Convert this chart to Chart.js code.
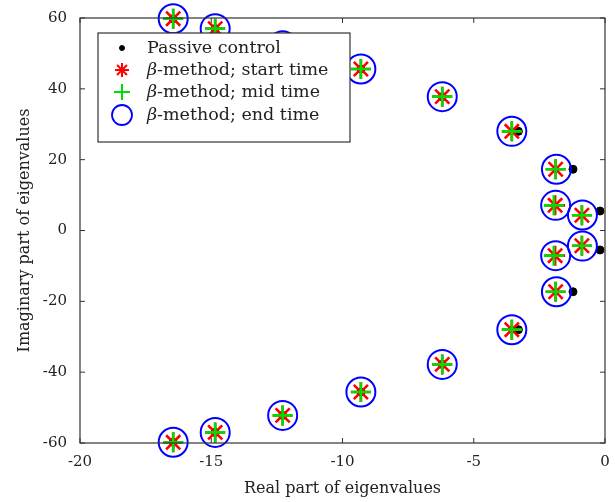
<html>

<head>
    <title>Eigenvalues</title>
    <script src="https://cdn.jsdelivr.net/npm/chart.js"></script>
    <style>
        html, body { margin: 0; background: white; overflow: hidden; }
    </style>
</head>

<body>
    <canvas id="myChart" width="615" height="502"></canvas>

    <script>
        // eigenvalues, upper half only (lower half is the conjugate)
        const passiveRe = [-16.45, -14.85, -12.28, -9.3, -6.2, -3.3, -1.22, -0.19];
        const passiveIm = [59.8, 57.0, 52.2, 45.6, 37.8, 28.0, 17.3, 5.5];

        const startRe = [-16.45, -14.85, -12.28, -9.3, -6.2, -3.55, -1.88, -1.9, -0.88];
        const startIm = [59.8, 57.0, 52.2, 45.6, 37.8, 28.0, 17.3, 7.1, 4.3];

        const midRe = [-16.45, -14.85, -12.28, -9.3, -6.2, -3.55, -1.88, -1.95, -0.88];
        const midIm = [59.8, 57.0, 52.2, 45.6, 37.8, 28.0, 17.3, 7.1, 4.3];

        const endRe = [-16.45, -14.85, -12.28, -9.3, -6.2, -3.55, -1.85, -1.88, -0.86];
        const endIm = [59.8, 57.0, 52.2, 45.6, 37.8, 28.0, 17.3, 7.1, 4.4];

        const xTicks = [-20, -15, -10, -5, 0];
        const yTicks = [-60, -40, -20, 0, 20, 40, 60];

        const seriesNames = [
            'Passive control',
            '-method; start time',
            '-method; mid time',
            '-method; end time'
        ];

        function pairs(re, im) {
            const pts = [];
            for (let i = 0; i < re.length; i++) {
                pts.push({ x: re[i], y: im[i] });
                pts.push({ x: re[i], y: -im[i] });
            }
            return pts;
        }

        const serif = "'DejaVu Serif', 'Liberation Serif', serif";

        // box round the plot, ticks pointing inward, legend inside the axes
        const framePlugin = {
            id: 'frame',
            afterDraw(chart) {
                const ctx = chart.ctx;
                const a = chart.chartArea;
                const xs = chart.scales.x;
                const ys = chart.scales.y;
                ctx.save();
                ctx.strokeStyle = '#333';
                ctx.lineWidth = 1.2;
                ctx.strokeRect(a.left, a.top, a.right - a.left, a.bottom - a.top);
                ctx.lineWidth = 1;
                ctx.beginPath();
                xTicks.forEach(v => {
                    const px = xs.getPixelForValue(v);
                    ctx.moveTo(px, a.bottom); ctx.lineTo(px, a.bottom - 5);
                    ctx.moveTo(px, a.top); ctx.lineTo(px, a.top + 5);
                });
                yTicks.forEach(v => {
                    const py = ys.getPixelForValue(v);
                    ctx.moveTo(a.left, py); ctx.lineTo(a.left + 5, py);
                    ctx.moveTo(a.right, py); ctx.lineTo(a.right - 5, py);
                });
                ctx.stroke();

                // legend
                const lx = 98, ly = 33, lw = 252, lh = 109;
                ctx.fillStyle = 'white';
                ctx.fillRect(lx, ly, lw, lh);
                ctx.strokeStyle = '#333';
                ctx.lineWidth = 1.2;
                ctx.strokeRect(lx, ly, lw, lh);

                const rowsY = [48, 70, 92, 115];
                const marks = [
                    { pointStyle: 'circle', radius: 2.5, borderWidth: 1, color: 'black', fill: true },
                    { pointStyle: 'star', radius: 7, borderWidth: 2, color: '#ff0000' },
                    { pointStyle: 'cross', radius: 8, borderWidth: 2, color: '#00dd00' },
                    { pointStyle: 'circle', radius: 10, borderWidth: 1.8, color: '#0000ff' }
                ];
                ctx.textBaseline = 'middle';
                rowsY.forEach((y, i) => {
                    const m = marks[i];
                    ctx.strokeStyle = m.color;
                    ctx.fillStyle = m.fill ? m.color : 'rgba(0,0,0,0)';
                    ctx.lineWidth = m.borderWidth;
                    Chart.helpers.drawPoint(ctx, {
                        pointStyle: m.pointStyle,
                        radius: m.radius,
                        borderWidth: m.borderWidth,
                        rotation: 0
                    }, 122, y);
                    let tx = 147;
                    ctx.fillStyle = '#222';
                    if (i > 0) {
                        ctx.font = 'italic 17.5px ' + serif;
                        ctx.fillText('\u03B2', tx, y);
                        tx += ctx.measureText('\u03B2').width;
                    }
                    ctx.font = '17.5px ' + serif;
                    ctx.fillText(seriesNames[i], tx, y);
                });
                ctx.restore();
            }
        };

        const data = {
            datasets: [
                {
                    label: seriesNames[0],
                    data: pairs(passiveRe, passiveIm),
                    order: 4,
                    pointStyle: 'circle',
                    pointRadius: 4,
                    backgroundColor: 'black',
                    borderColor: 'black',
                    pointBorderWidth: 1
                },
                {
                    label: 'β' + seriesNames[1],
                    data: pairs(startRe, startIm),
                    order: 3,
                    pointStyle: 'star',
                    pointRadius: 10,
                    borderColor: '#ff0000',
                    backgroundColor: '#ff0000',
                    pointBorderWidth: 2.6
                },
                {
                    label: 'β' + seriesNames[2],
                    data: pairs(midRe, midIm),
                    order: 2,
                    pointStyle: 'cross',
                    pointRadius: 10,
                    borderColor: '#00dd00',
                    backgroundColor: '#00dd00',
                    pointBorderWidth: 2.6
                },
                {
                    label: 'β' + seriesNames[3],
                    data: pairs(endRe, endIm),
                    order: 1,
                    pointStyle: 'circle',
                    pointRadius: 14.5,
                    borderColor: '#0000ff',
                    backgroundColor: 'rgba(0,0,0,0)',
                    pointBorderWidth: 2
                }
            ]
        };

        const config = {
            type: 'scatter',
            data: data,
            options: {
                responsive: false,
                animation: false,
                clip: false,
                layout: {
                    autoPadding: false,
                    padding: { top: 18, right: 10, left: 0, bottom: 0 }
                },
                scales: {
                    x: {
                        type: 'linear',
                        min: -20,
                        max: 0,
                        afterFit: (s) => { s.height = 59; s.paddingRight = 0; s.paddingLeft = 0; },
                        afterBuildTicks: (s) => { s.ticks = xTicks.map(v => ({ value: v })); },
                        grid: { display: false },
                        border: { display: false },
                        ticks: {
                            color: '#222',
                            padding: 2,
                            maxRotation: 0,
                            font: { family: serif, size: 15 }
                        },
                        title: {
                            display: true,
                            text: 'Real part of eigenvalues',
                            color: '#222',
                            padding: { top: 0, bottom: 4 },
                            font: { family: serif, size: 16 }
                        }
                    },
                    y: {
                        type: 'linear',
                        min: -60,
                        max: 60,
                        afterFit: (s) => { s.width = 80; s.paddingTop = 0; s.paddingBottom = 0; },
                        afterBuildTicks: (s) => { s.ticks = yTicks.map(v => ({ value: v })); },
                        grid: { display: false },
                        border: { display: false },
                        ticks: {
                            color: '#222',
                            padding: 5,
                            font: { family: serif, size: 15 }
                        },
                        title: {
                            display: true,
                            text: 'Imaginary part of eigenvalues',
                            color: '#222',
                            padding: { top: 15, bottom: 0 },
                            font: { family: serif, size: 16 }
                        }
                    }
                },
                plugins: {
                    legend: { display: false },
                    tooltip: { enabled: false }
                }
            },
            plugins: [framePlugin]
        };
    </script>

    <script>
        const myChart = new Chart(
            document.getElementById('myChart'),
            config
        );
    </script>

</body>

</html>
